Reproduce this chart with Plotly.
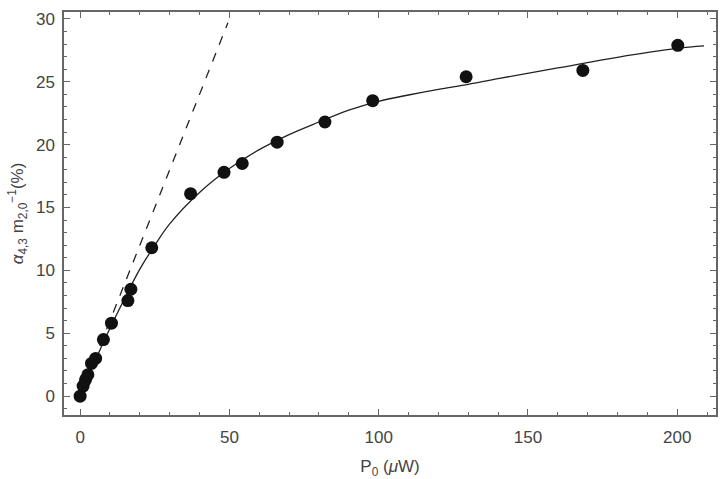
import plotly.graph_objects as go

# measured points
p0 = [0, 1.0, 1.8, 2.6, 3.8, 5.2, 7.8, 10.5, 16.0, 17.0, 24.0, 37.0, 48.2, 54.3, 66.0, 82.0, 98.0, 129.3, 168.4, 200.2]
alpha = [0, 0.8, 1.3, 1.7, 2.6, 3.0, 4.5, 5.8, 7.6, 8.5, 11.8, 16.1, 17.8, 18.5, 20.2, 21.8, 23.5, 25.4, 25.9, 27.9]

# fitted curve
fit_x = [0, 5, 10, 15, 20, 25, 30, 40, 50, 60, 70, 80, 90, 100, 110, 120, 130, 140, 160, 180, 200, 209]
fit_y = [0, 2.8, 5.4, 7.8, 10.1, 12.0, 13.7, 16.2, 18.1, 19.6, 20.8, 21.8, 22.75, 23.45, 23.95, 24.4, 24.8, 25.25, 26.1, 26.95, 27.65, 27.85]

# linear (low-power) asymptote
lin_x = [0, 49.5]
lin_y = [0, 29.7]

x_ticks = [0, 50, 100, 150, 200]
y_ticks = [0, 5, 10, 15, 20, 25, 30]
x_range = [-5.4, 213]
y_range = [-1.5, 30.55]

fig = go.Figure()
fig.add_trace(go.Scatter(x=lin_x, y=lin_y, mode="lines",
                         line=dict(color="#222", width=1.3, dash="dash"), showlegend=False))
fig.add_trace(go.Scatter(x=fit_x, y=fit_y, mode="lines", line_shape="spline",
                         line=dict(color="#222", width=1.3), showlegend=False))
fig.add_trace(go.Scatter(x=p0, y=alpha, mode="markers",
                         marker=dict(color="#111", size=13), showlegend=False))
# invisible trace to activate mirrored (top/right) axes
fig.add_trace(go.Scatter(x=[x_range[0]], y=[y_range[0]], xaxis="x2", yaxis="y2", mode="markers",
                         marker=dict(opacity=0), showlegend=False, hoverinfo="skip"))

tick_common = dict(showgrid=False, zeroline=False, showline=True, linecolor="#666", linewidth=1.5,
                   ticks="inside", ticklen=6, tickcolor="#666", tickwidth=1.2,
                   tickfont=dict(family="Liberation Sans, Arial", size=17, color="#444"))
title_font = dict(family="Liberation Sans, Arial", size=17, color="#444")

fig.update_layout(
    width=721, height=479, margin=dict(l=64, r=5, t=12, b=64),
    plot_bgcolor="white", paper_bgcolor="white",
    xaxis=dict(range=x_range, tickvals=x_ticks, ticklabelstandoff=6,
               minor=dict(ticks="inside", dtick=10, tick0=0, ticklen=3, tickcolor="#666"),
               title=dict(text="P<sub>0</sub> (<i>μ</i>W)", standoff=14, font=title_font),
               **tick_common),
    yaxis=dict(range=y_range, tickvals=y_ticks, ticklabelstandoff=4,
               minor=dict(ticks="inside", dtick=1, tick0=0, ticklen=3, tickcolor="#666"),
               title=dict(text="<i>α</i><sub>4,3</sub> m<sub>2,0</sub><sup>−1</sup>(%)", standoff=8,
                          font=title_font),
               **tick_common),
    xaxis2=dict(range=x_range, tickvals=x_ticks, overlaying="x", side="top", anchor="y2",
                showticklabels=False,
                minor=dict(ticks="inside", dtick=10, tick0=0, ticklen=3, tickcolor="#666"),
                **tick_common),
    yaxis2=dict(range=y_range, tickvals=y_ticks, overlaying="y", side="right", anchor="x2",
                showticklabels=False,
                minor=dict(ticks="inside", dtick=1, tick0=0, ticklen=3, tickcolor="#666"),
                **tick_common),
)
fig.write_html("out.html")
